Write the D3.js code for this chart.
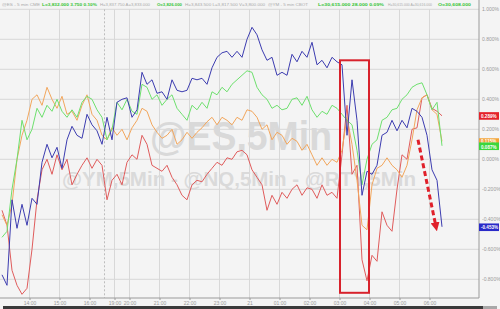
<!DOCTYPE html>
<html><head><meta charset="utf-8">
<script src="https://cdn.jsdelivr.net/npm/d3@7"></script>
<style>html,body{margin:0;padding:0;background:#f4f4f4;overflow:hidden}svg{display:block}</style>
</head><body>
<script>
// ---- data (percent change, 5-min bars, one point every 2 bars) ----
const nqVals = [-0.77,-0.84,-0.27,-0.46,-0.30,-0.44,-0.26,-0.30,-0.02,0.10,
0.01,0.08,-0.06,0.13,0.22,0.16,0.14,0.30,0.23,0.19,
0.10,0.28,0.13,0.38,0.40,0.41,0.28,0.33,0.58,0.50,
0.53,0.44,0.45,0.40,0.53,0.46,0.45,0.46,0.54,0.53,
0.54,0.50,0.61,0.68,0.71,0.72,0.68,0.72,0.68,0.80,
0.88,0.83,0.73,0.66,0.68,0.56,0.58,0.56,0.70,0.65,
0.72,0.68,0.78,0.63,0.66,0.61,0.68,0.65,0.63,0.16,
0.53,0.26,-0.24,-0.08,-0.10,-0.04,0.16,0.18,0.26,0.19,
0.26,0.21,0.34,0.32,0.28,0.16,-0.07,-0.14,-0.45];
const ymVals = [-0.52,-0.48,-0.20,0.00,0.26,0.13,0.20,0.34,0.28,0.36,
0.32,0.40,0.32,0.28,0.33,0.28,0.38,0.42,0.40,0.33,
0.28,0.13,0.20,0.38,0.33,0.40,0.32,0.30,0.50,0.48,
0.40,0.43,0.36,0.40,0.43,0.34,0.30,0.26,0.36,0.33,
0.38,0.34,0.45,0.43,0.48,0.45,0.50,0.53,0.56,0.59,
0.58,0.48,0.43,0.40,0.34,0.36,0.33,0.34,0.40,0.41,
0.36,0.42,0.33,0.28,0.32,0.30,0.36,0.34,0.30,0.26,
0.23,0.06,-0.17,0.00,0.10,0.13,0.26,0.28,0.33,0.34,
0.40,0.43,0.48,0.50,0.51,0.43,0.33,0.38,0.09];
const esVals = [-0.37,-0.44,-0.30,0.00,0.16,0.26,0.40,0.43,0.36,0.48,
0.40,0.34,0.42,0.30,0.32,0.26,0.36,0.43,0.30,0.26,
0.16,0.13,0.21,0.16,0.20,0.13,0.21,0.26,0.34,0.32,
0.23,0.18,0.14,0.16,0.20,0.10,0.13,0.18,0.14,0.18,
0.21,0.25,0.28,0.23,0.28,0.26,0.23,0.28,0.26,0.33,
0.32,0.28,0.20,0.23,0.13,0.18,0.16,0.10,0.14,0.12,
0.06,0.10,0.03,-0.04,0.01,-0.04,0.00,-0.02,0.06,0.28,
0.10,-0.14,-0.44,-0.47,-0.17,-0.06,-0.04,0.01,-0.04,-0.07,
-0.12,-0.04,0.13,0.33,0.41,0.43,0.33,0.30,0.12];
const rtyVals = [-0.34,-0.44,-0.74,-0.84,-0.90,-0.86,-0.60,-0.27,-0.07,0.00,
-0.10,0.03,-0.07,0.00,-0.17,-0.10,-0.04,0.01,-0.06,0.00,
-0.04,-0.27,-0.14,-0.10,-0.17,-0.02,0.03,0.00,0.16,0.10,
-0.04,-0.06,-0.08,-0.04,-0.12,-0.17,-0.24,-0.27,-0.17,-0.14,
-0.15,-0.10,-0.06,-0.02,-0.04,0.01,0.00,0.05,0.06,0.03,
-0.07,-0.12,-0.17,-0.34,-0.24,-0.30,-0.22,-0.26,-0.20,-0.17,
-0.24,-0.19,-0.20,-0.26,-0.17,-0.24,-0.22,-0.26,0.03,0.36,
-0.10,-0.04,-0.67,-0.81,-0.64,-0.68,-0.35,-0.44,-0.48,-0.20,
0.03,0.00,0.20,0.21,0.41,0.43,0.34,0.32,0.29];
const lastLabels = [
  {name:"RTY", value:0.289, text:"0.289%"},
  {name:"ES",  value:0.115, text:"0.115%"},
  {name:"YM",  value:0.087, text:"0.087%"},
  {name:"NQ",  value:-0.453, text:"-0.453%"}
];
const xTickBars = [11,23,35,45,51,63,75,87,99,111,123,135,147,159,171];
const xTickLabels = ["14:00","15:00","16:00","19:00","20:00","21:00","22:00","23:00","21","01:00","02:00","03:00","04:00","05:00","06:00"];
const yTicks = [-0.8,-0.6,-0.4,-0.2,0,0.2,0.4,0.6,0.8,1.0];
const sessionBreakBar = 41;
const barsPerPoint = 2;

// ---- styles ----
const colors = {NQ:"#3c3cb0", YM:"#6ee06e", ES:"#f2a65c", RTY:"#e05c5c"};
const labelColors = {NQ:"#2a2ac8", YM:"#3cd63c", ES:"#f4a234", RTY:"#e4222a"};
const labelTextDy = {NQ:2, YM:2.8, ES:1.0, RTY:2};

const W=500,H=309;
const svg = d3.select("body").append("svg").attr("width",W).attr("height",H)
  .style("font-family","'Liberation Sans',Arial,sans-serif");
svg.append("rect").attr("width",W).attr("height",H).attr("fill","#f4f4f4");

const x = d3.scaleLinear().domain([0,176]).range([2,442]);
const y = d3.scaleLinear().domain([-0.8,0.8]).range([279.3,39.3]);
const axisX = 479, axisY = 298, topY = y(1.0);

// grid
svg.append("g").selectAll("line").data(yTicks).join("line")
  .attr("x1",0).attr("x2",axisX).attr("y1",d=>y(d)).attr("y2",d=>y(d))
  .attr("stroke","#d8d8d8").attr("stroke-width",1);
svg.append("g").selectAll("line").data(xTickBars).join("line")
  .attr("x1",d=>x(d)).attr("x2",d=>x(d)).attr("y1",topY).attr("y2",axisY)
  .attr("stroke","#d8d8d8").attr("stroke-width",1);
svg.append("line").attr("x1",x(sessionBreakBar)).attr("x2",x(sessionBreakBar))
  .attr("y1",topY).attr("y2",axisY).attr("stroke","#bdbdbd").attr("stroke-dasharray","2,2");

// watermark
svg.append("text").attr("x",150).attr("y",150).attr("textLength",182).attr("lengthAdjust","spacingAndGlyphs")
  .attr("font-size",41).attr("font-weight","bold").attr("fill","#d9d9d9").text("@ES,5Min");
svg.append("text").attr("x",62).attr("y",186).attr("textLength",354).attr("lengthAdjust","spacingAndGlyphs")
  .attr("font-size",20).attr("font-weight","bold").attr("fill","#dadada").text("@YM,5Min - @NQ,5Min - @RTY,5Min");

// lines
svg.append("clipPath").attr("id","pc").append("rect")
  .attr("x",0).attr("y",topY).attr("width",axisX).attr("height",axisY-topY);
const line = d3.line().x((d,i)=>x(i*barsPerPoint)).y(d=>y(d));
const series = [["RTY",rtyVals],["ES",esVals],["YM",ymVals],["NQ",nqVals]];
svg.append("g").attr("clip-path","url(#pc)").selectAll("path").data(series).join("path")
  .attr("d",d=>line(d[1])).attr("fill","none").attr("stroke",d=>colors[d[0]])
  .attr("stroke-width",1).attr("stroke-linejoin","round");

// axes
svg.append("line").attr("x1",0).attr("x2",axisX).attr("y1",axisY).attr("y2",axisY).attr("stroke","#9a9a9a");
svg.append("line").attr("x1",axisX).attr("x2",axisX).attr("y1",0).attr("y2",axisY).attr("stroke","#9a9a9a");
const xa = svg.append("g").attr("transform",`translate(0,${axisY})`)
  .call(d3.axisBottom(x).tickValues(xTickBars).tickFormat((d,i)=>xTickLabels[i]).tickSize(2).tickPadding(1));
xa.select(".domain").remove();
xa.selectAll("line").attr("stroke","#9a9a9a");
xa.selectAll("text").attr("font-size",5).attr("fill","#9a9a9a").attr("font-family","'Liberation Sans',Arial,sans-serif");
const ya = svg.append("g").attr("transform",`translate(${axisX},0)`)
  .call(d3.axisRight(y).tickValues(yTicks).tickSize(0).tickPadding(3).tickFormat(d=>d.toFixed(3)+"%"));
ya.select(".domain").remove();
ya.selectAll("text").attr("font-size",5).attr("fill","#9a9a9a").attr("font-family","'Liberation Sans',Arial,sans-serif");

// last value labels
const lg = svg.append("g").selectAll("g").data(lastLabels).join("g")
  .attr("transform",d=>`translate(${axisX},${y(d.value)})`);
lg.append("rect").attr("x",0).attr("y",-3.8).attr("width",20).attr("height",7.6).attr("fill",d=>labelColors[d.name]);
lg.append("text").attr("x",2).attr("y",d=>labelTextDy[d.name]).attr("font-size",4.6).attr("font-weight","bold").attr("fill","#fff").text(d=>d.text);

// annotations: highlight box and arrow
const boxBars = [135.2,146.8], boxVals = [0.66,-0.89];
svg.append("rect").attr("x",x(boxBars[0])).attr("y",y(boxVals[0]))
  .attr("width",x(boxBars[1])-x(boxBars[0])).attr("height",y(boxVals[1])-y(boxVals[0]))
  .attr("fill","none").attr("stroke","#d8222c").attr("stroke-width",2);
const arrowFrom = [166.4,0.13], arrowTo = [173.6,-0.45];
svg.append("defs").append("marker").attr("id","ah").attr("viewBox","0 0 10 10").attr("refX",5).attr("refY",5)
  .attr("markerWidth",3).attr("markerHeight",3).attr("orient","auto")
  .append("path").attr("d","M0,0L10,5L0,10z").attr("fill","#e0202a");
svg.append("line").attr("x1",x(arrowFrom[0])).attr("y1",y(arrowFrom[1]))
  .attr("x2",x(arrowTo[0])).attr("y2",y(arrowTo[1]))
  .attr("stroke","#e0202a").attr("stroke-width",3).attr("stroke-dasharray","5,3").attr("marker-end","url(#ah)");

// header (text, x, target width, colour, font size)
const header = [
  ["@ES - 5 min CME",2,38,"#aaa",4.4],["L=3,832.000 3.750 0.10%",42,55,"#34c434",4.4],["H=3,837.750 A=3,833.000",100,50,"#aaa",4.0],
  ["O=3,826.000",157,25,"#34c434",4.0],["H=3,843.500 L=3,817.500 V=3,800.000",185,80,"#aaa",4.2],["@YM - 5 min CBOT",268,40,"#aaa",4.4],
  ["L=30,615.000 28.000 0.09%",318,66,"#34c434",4.4],["H=30,615.000 A=30,616.000",388,44,"#aaa",3.4],["O=30,608.000",438,33,"#34c434",4.4]
];
svg.append("g").selectAll("text").data(header).join("text")
  .attr("x",d=>d[1]).attr("y",6).attr("font-size",d=>d[4]).attr("textLength",d=>d[2]).attr("lengthAdjust","spacingAndGlyphs")
  .attr("font-weight",d=>d[3]==="#aaa"?"normal":"bold")
  .attr("fill",d=>d[3]).text(d=>d[0]);

// bottom bar
svg.append("rect").attr("x",3).attr("y",306).attr("width",494).attr("height",3).attr("fill","#3a3a3a");
svg.append("rect").attr("x",483).attr("y",306).attr("width",14).attr("height",3).attr("fill","#a8a8a8");
</script>
</body></html>
